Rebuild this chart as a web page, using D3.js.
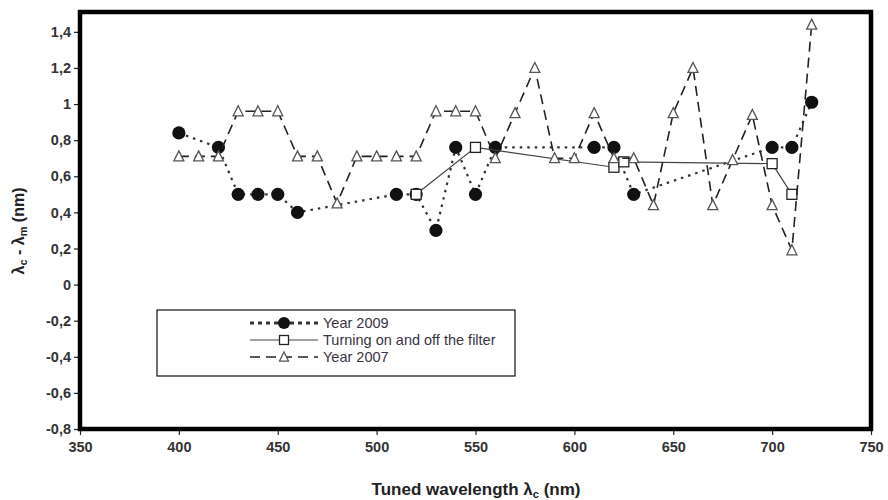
<!DOCTYPE html>
<html>
<head>
<meta charset="utf-8">
<script src="https://cdn.jsdelivr.net/npm/d3@7/dist/d3.min.js"></script>
<style>
    body { margin: 0; background: #fff; }
    svg { display: block; font-family: 'Liberation Sans', Arial, sans-serif; }
</style>
</head>
<body>
<div id="chart"></div>
<script>
    'use strict';

    // axis ticks
    const X_TICKS = [350, 400, 450, 500, 550, 600, 650, 700, 750];
    const Y_TICKS = [-0.8, -0.6, -0.4, -0.2, 0, 0.2, 0.4, 0.6, 0.8, 1, 1.2, 1.4];
    const Y_TOP = 1.51; // plot area goes a little above the last tick

    const SERIES_NAMES = ['Year 2009', 'Turning on and off the filter', 'Year 2007'];

    // Year 2009 (filled circles, dotted line)
    const wl2009 = [400, 420, 430, 440, 450, 460, 510, 520, 530, 540, 550, 560, 610, 620, 630, 700, 710, 720];
    const val2009 = [0.84, 0.76, 0.5, 0.5, 0.5, 0.4, 0.5, 0.5, 0.3, 0.76, 0.5, 0.76, 0.76, 0.76, 0.5, 0.76, 0.76, 1.01];

    // turning on and off the filter (open squares, solid line)
    const wlFilter = [520, 550, 620, 625, 700, 710];
    const valFilter = [0.5, 0.76, 0.65, 0.68, 0.67, 0.5];

    // Year 2007 (open triangles, long dashes)
    const wl2007 = [400, 410, 420, 430, 440, 450, 460, 470, 480, 490, 500, 510, 520, 530, 540, 550, 560, 570,
        580, 590, 600, 610, 620, 630, 640, 650, 660, 670, 680, 690, 700, 710, 720];
    const val2007 = [0.71, 0.71, 0.71, 0.96, 0.96, 0.96, 0.71, 0.71, 0.45, 0.71, 0.71, 0.71, 0.71, 0.96, 0.96, 0.96, 0.7, 0.95,
        1.2, 0.7, 0.7, 0.95, 0.7, 0.7, 0.44, 0.95, 1.2, 0.44, 0.69, 0.94, 0.44, 0.19, 1.44];

    const width = 888;
    const height = 500;
    const margin = { top: 12, right: 17, bottom: 71, left: 80 };

    const svg = d3.select('#chart').append('svg')
        .attr('width', width)
        .attr('height', height);

    const xScale = d3.scaleLinear().domain([350, 750]).range([margin.left, width - margin.right]);
    const yScale = d3.scaleLinear().domain([-0.8, Y_TOP]).range([height - margin.bottom, margin.top]);

    const fmt = function (d) {
        return String(d).replace('.', ',');
    };

    const toPoints = function (xs, ys) {
        return xs.map(function (x, i) {
            return { x: x, y: ys[i] };
        });
    };

    const series = [
        { name: SERIES_NAMES[0], points: toPoints(wl2009, val2009), marker: 'circle', dash: '2.5,5', stroke: '#333', sw: 2.2 },
        { name: SERIES_NAMES[1], points: toPoints(wlFilter, valFilter), marker: 'square', dash: null, stroke: '#444', sw: 1.2 },
        { name: SERIES_NAMES[2], points: toPoints(wl2007, val2007), marker: 'triangle', dash: '10,6', stroke: '#222', sw: 1.6 }
    ];

    // axes
    const yAxis = d3.axisLeft(yScale).tickValues(Y_TICKS).tickFormat(fmt).tickSize(4).tickPadding(3);
    const xAxis = d3.axisBottom(xScale).tickValues(X_TICKS).tickFormat(d3.format('d')).tickSize(4).tickPadding(7);

    const axisStyle = function (g) {
        g.select('.domain').remove();
        g.selectAll('line').attr('stroke', '#222').attr('stroke-width', 1.2);
        g.selectAll('text').attr('fill', '#333').style('font-size', '14.5px').style('font-weight', 'bold');
    };

    svg.append('g').attr('transform', 'translate(' + (margin.left - 2) + ',0)').call(yAxis).call(axisStyle);
    svg.append('g').attr('transform', 'translate(0,' + (height - margin.bottom + 2) + ')').call(xAxis).call(axisStyle);

    // plot frame
    svg.append('rect')
        .attr('x', margin.left)
        .attr('y', margin.top)
        .attr('width', xScale(750) - xScale(350))
        .attr('height', yScale(-0.8) - yScale(Y_TOP))
        .attr('fill', 'none')
        .attr('stroke', '#000')
        .attr('stroke-width', 4.5);

    const line = d3.line()
        .x(function (d) { return xScale(d.x); })
        .y(function (d) { return yScale(d.y); });

    const drawMarker = function (sel, type, size) {
        if (type === 'circle') {
            sel.append('circle').attr('r', size * 0.55).attr('fill', '#111');
        } else if (type === 'square') {
            sel.append('rect')
                .attr('x', -size / 2).attr('y', -size / 2)
                .attr('width', size).attr('height', size)
                .attr('fill', '#fff').attr('stroke', '#222').attr('stroke-width', 1.3);
        } else {
            const h = size;
            sel.append('path')
                .attr('d', 'M0,' + (-h * 0.55) + 'L' + (h * 0.5) + ',' + (h * 0.45) + 'L' + (-h * 0.5) + ',' + (h * 0.45) + 'Z')
                .attr('fill', '#fff').attr('stroke', '#555').attr('stroke-width', 1.3);
        }
    };

    const plot = svg.append('g');

    series.forEach(function (s) {
        plot.append('path')
            .datum(s.points)
            .attr('d', line)
            .attr('fill', 'none')
            .attr('stroke', s.stroke)
            .attr('stroke-width', s.sw)
            .attr('stroke-dasharray', s.dash);

        plot.selectAll('.m-' + s.marker)
            .data(s.points)
            .enter().append('g')
            .attr('class', 'm-' + s.marker)
            .attr('transform', function (d) {
                return 'translate(' + xScale(d.x) + ',' + yScale(d.y) + ')';
            })
            .each(function () {
                drawMarker(d3.select(this), s.marker, s.marker === 'circle' ? 12 : 10);
            });
    });

    // legend
    const legend = svg.append('g').attr('transform', 'translate(157,310)');

    legend.append('rect')
        .attr('width', 358)
        .attr('height', 66)
        .attr('fill', '#fff')
        .attr('stroke', '#222')
        .attr('stroke-width', 1.3);

    const rows = legend.selectAll('.row').data(series)
        .enter().append('g')
        .attr('class', 'row')
        .attr('transform', function (d, i) {
            return 'translate(0,' + (13 + i * 17) + ')';
        });

    rows.append('line')
        .attr('x1', 93).attr('x2', 161)
        .attr('stroke', function (d) { return d.stroke; })
        .attr('stroke-width', function (d) { return d.marker === 'circle' ? 3 : d.sw; })
        .attr('stroke-dasharray', function (d) { return d.marker === 'circle' ? '4,4' : d.dash; });

    rows.append('g')
        .attr('transform', 'translate(127,0)')
        .each(function (d) {
            drawMarker(d3.select(this), d.marker, d.marker === 'circle' ? 11 : 9);
        });

    rows.append('text')
        .attr('x', 166)
        .attr('dy', '0.35em')
        .attr('fill', '#3a3445')
        .style('font-size', '14.5px')
        .text(function (d) { return d.name; });

    // axis titles
    const xTitle = svg.append('text')
        .attr('x', 476)
        .attr('y', 495)
        .attr('text-anchor', 'middle')
        .attr('fill', '#222')
        .style('font-size', '17px')
        .style('font-weight', 'bold');
    xTitle.append('tspan').text('Tuned wavelength ');
    xTitle.append('tspan').text('λ');
    xTitle.append('tspan').attr('dy', 3).style('font-size', '11px').text('c');
    xTitle.append('tspan').attr('dy', -3).text(' (nm)');

    const yTitle = svg.append('text')
        .attr('transform', 'translate(24,231) rotate(-90)')
        .attr('text-anchor', 'middle')
        .attr('fill', '#222')
        .style('font-size', '16px')
        .style('font-weight', 'bold');
    yTitle.append('tspan').text('λ');
    yTitle.append('tspan').attr('dy', 3).style('font-size', '11px').text('c');
    yTitle.append('tspan').attr('dy', -3).text(' - λ');
    yTitle.append('tspan').attr('dy', 3).style('font-size', '11px').text('m');
    yTitle.append('tspan').attr('dy', -3).text(' (nm)');
</script>
</body>
</html>
